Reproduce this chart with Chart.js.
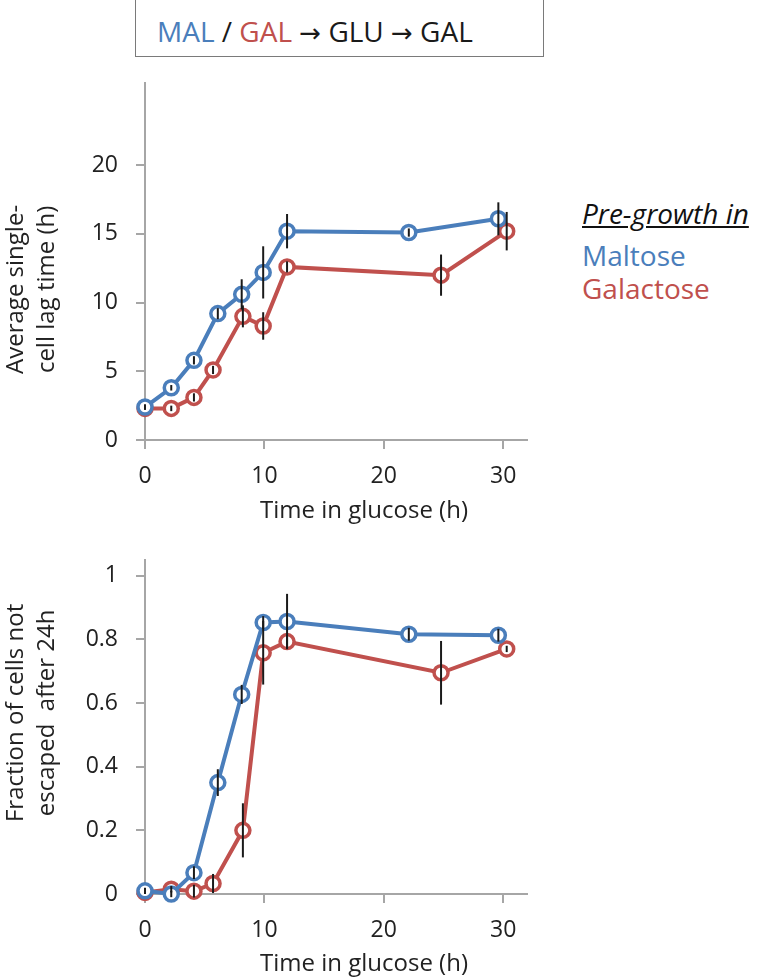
<!DOCTYPE html>
<html>
<head>
<meta charset="utf-8">
<script src="https://cdn.jsdelivr.net/npm/chart.js@4.4.1/dist/chart.umd.min.js"></script>
<style>
  html, body { margin: 0; padding: 0; background: #fff; }
  body { width: 765px; height: 978px; position: relative; overflow: hidden; font-family: "Open Sans", sans-serif; color: #222; }
  #titlebox { position: absolute; left: 135px; top: -2px; width: 409px; height: 59px; border: 1px solid #7a7a7a; box-sizing: border-box; }
  #titlebox span.t { position: absolute; left: 21px; top: 33px; transform: translateY(-50%); font-size: 28px; line-height: 34px; white-space: pre; color: #1a1a1a; }
  #titlebox span.arrow { font-family: "DejaVu Sans", sans-serif; font-size: 26px; }
  .lg { position: absolute; left: 582px; font-size: 28px; line-height: 34px; transform: translateY(-50%); white-space: nowrap; }
  .lg.head { font-style: italic; text-decoration: underline; color: #111; }
  canvas { position: absolute; left: 0; }
</style>
</head>
<body>
<div id="titlebox"><span class="t" id="titleText"></span></div>
<div id="legend"></div>
<canvas id="lagChart" width="540" height="479" style="top:51px"></canvas>
<canvas id="fracChart" width="540" height="450" style="top:528px"></canvas>
<script>
// ---------- data ----------
const seriesNames = ["Maltose", "Galactose"];
const seriesColors = ["#4a7ebb", "#c0504d"];
const legendHeading = "Pre-growth in";

const maltoseTime   = [0, 2.2, 4.1, 6.1, 8.1, 9.9, 11.9, 22.1, 29.6];
const galactoseTime = [0, 2.2, 4.1, 5.7, 8.2, 9.9, 11.9, 24.8, 30.3];

// Average single-cell lag time (h)
const maltoseLag      = [2.4, 3.8, 5.8, 9.2, 10.6, 12.2, 15.2, 15.1, 16.1];
const maltoseLagErr   = [0.2, 0.2, 0.3, 0.4, 1.1, 1.9, 1.25, 0.3, 1.2];
const galactoseLag    = [2.3, 2.3, 3.1, 5.1, 9.0, 8.3, 12.6, 12.0, 15.2];
const galactoseLagErr = [0.1, 0.2, 0.3, 0.3, 0.8, 1.0, 0.4, 1.5, 1.4];

// Fraction of cells not escaped after 24h
const maltoseFrac      = [0.01, 0.0, 0.067, 0.35, 0.627, 0.853, 0.856, 0.816, 0.813];
const maltoseFracErr   = [0.01, 0.01, 0.02, 0.042, 0.03, 0.02, 0.087, 0.02, 0.02];
const galactoseFrac    = [0.005, 0.015, 0.009, 0.033, 0.2, 0.758, 0.793, 0.695, 0.77];
const galactoseFracErr = [0.005, 0.01, 0.02, 0.03, 0.085, 0.1, 0.02, 0.1, 0.01];

const xTicks = [0, 10, 20, 30];
const lagTicks = [0, 5, 10, 15, 20];
const fracTicks = [0, 0.2, 0.4, 0.6, 0.8, 1];

const xTitle = "Time in glucose (h)";
const lagTitle = ["Average single-", "cell lag time (h)"];
const fracTitle = ["Fraction of cells not", "escaped  after 24h"];

const titleParts = [["MAL", "#4a7ebb"], [" / ", "#1a1a1a"], ["GAL", "#c0504d"], [" ", "#1a1a1a"], ["\u2192", "#1a1a1a", "arrow"], [" GLU ", "#1a1a1a"], ["\u2192", "#1a1a1a", "arrow"], [" GAL", "#1a1a1a"]];

// ---------- HTML text ----------
const tt = document.getElementById('titleText');
titleParts.forEach(([s, c, cls]) => { const sp = document.createElement('span'); sp.textContent = s; sp.style.color = c; if (cls) sp.className = cls; tt.appendChild(sp); });
const lg = document.getElementById('legend');
const legendRows = [[legendHeading, "#111", 213, "head"], [seriesNames[0], seriesColors[0], 255, ""], [seriesNames[1], seriesColors[1], 288, ""]];
legendRows.forEach(([t, c, y, cls]) => { const d = document.createElement('div'); d.className = 'lg ' + cls; d.textContent = t; d.style.color = c; d.style.top = y + 'px'; lg.appendChild(d); });

// ---------- chart helpers ----------
const errorBars = {
  id: 'errorBars',
  afterDatasetsDraw(chart) {
    const { ctx, scales: { x, y } } = chart;
    ctx.save();
    ctx.strokeStyle = '#1a1a1a';
    ctx.lineWidth = 2;
    chart.data.datasets.forEach((ds, i) => {
      if (!ds.errors || !chart.isDatasetVisible(i)) return;
      ds.data.forEach((p, j) => {
        const e = ds.errors[j];
        const px = x.getPixelForValue(p.x);
        ctx.beginPath();
        ctx.moveTo(px, y.getPixelForValue(p.y - e));
        ctx.lineTo(px, y.getPixelForValue(p.y + e));
        ctx.stroke();
      });
    });
    ctx.restore();
  }
};

// axis titles, placed relative to the chart area like the original figure
const axisTitles = {
  id: 'axisTitles',
  afterDraw(chart, args, o) {
    const { ctx, chartArea: a } = chart;
    ctx.save();
    ctx.fillStyle = o.color;
    ctx.font = o.size + 'px "Open Sans"';
    ctx.textAlign = 'center';
    ctx.textBaseline = 'middle';
    ctx.fillText(o.xText, (a.left + a.right) / 2 + o.xShift, a.bottom + o.xGap);
    const cy = (a.top + a.bottom) / 2 + o.yShift;
    o.yText.forEach((line, i) => {
      ctx.save();
      ctx.translate(o.yX + i * o.yLine, cy);
      ctx.rotate(-Math.PI / 2);
      ctx.fillText(line, 0, 0);
      ctx.restore();
    });
    ctx.restore();
  }
};

const pts = (xs, ys) => xs.map((x, i) => ({ x, y: ys[i] }));

function makeDataset(i, xs, ys, errs) {
  return {
    label: seriesNames[i],
    data: pts(xs, ys),
    errors: errs,
    showLine: true,
    borderColor: seriesColors[i],
    backgroundColor: '#ffffff',
    pointBackgroundColor: '#ffffff',
    pointBorderColor: seriesColors[i],
    borderWidth: 4,
    pointRadius: 7,
    pointBorderWidth: 3.5,
    pointHoverRadius: 7,
    tension: 0,
    clip: false
  };
}

const axisGray = '#a6a6a6';
const tickFont = { family: "Open Sans", size: 23 };

function makeOptions(yMax, yTicks, yStep, yTitle, yFmt, xHeight, yShift, xGap) {
  return {
    responsive: false,
    animation: false,
    devicePixelRatio: 1,
    layout: { padding: { top: 22, right: 13, left: 0, bottom: 0 } },
    plugins: {
      legend: { display: false },
      tooltip: { enabled: false },
      axisTitles: { xText: xTitle, yText: yTitle, color: '#222', size: 24, xShift: 28, xGap: xGap, yShift: yShift, yX: 16, yLine: 31 }
    },
    scales: {
      x: {
        type: 'linear', min: 0, max: 32,
        ticks: { stepSize: 10, color: '#222', font: tickFont, padding: 14, maxRotation: 0 },
        afterBuildTicks: (ax) => { ax.ticks = xTicks.map(v => ({ value: v })); },
        grid: { display: true, drawOnChartArea: false, drawTicks: true, tickLength: 9, color: axisGray, lineWidth: 2 },
        border: { display: true, color: axisGray, width: 2 },
        afterFit: (s) => { s.height = xHeight; }
      },
      y: {
        type: 'linear', min: 0, max: yMax,
        ticks: { stepSize: yStep, color: '#222', font: tickFont, padding: 18, callback: yFmt },
        afterBuildTicks: (ax) => { ax.ticks = yTicks.map(v => ({ value: v })); },
        grid: { display: true, drawOnChartArea: false, drawTicks: true, tickLength: 9, color: axisGray, lineWidth: 2 },
        border: { display: true, color: axisGray, width: 2 },
        afterFit: (s) => { s.width = 145; }
      }
    }
  };
}

new Chart(document.getElementById('lagChart'), {
  type: 'scatter',
  data: {
    datasets: [
      makeDataset(0, maltoseTime, maltoseLag, maltoseLagErr),
      makeDataset(1, galactoseTime, galactoseLag, galactoseLagErr)
    ]
  },
  options: makeOptions(26, lagTicks, 5, lagTitle, (v) => String(v), 90, 28, 71),
  plugins: [errorBars, axisTitles]
});

new Chart(document.getElementById('fracChart'), {
  type: 'scatter',
  data: {
    datasets: [
      makeDataset(0, maltoseTime, maltoseFrac, maltoseFracErr),
      makeDataset(1, galactoseTime, galactoseFrac, galactoseFracErr)
    ]
  },
  options: makeOptions(1.05, fracTicks, 0.2, fracTitle, (v) => String(Number(v.toFixed(1))), 84, -14, 70),
  plugins: [errorBars, axisTitles]
});
</script>
</body>
</html>
